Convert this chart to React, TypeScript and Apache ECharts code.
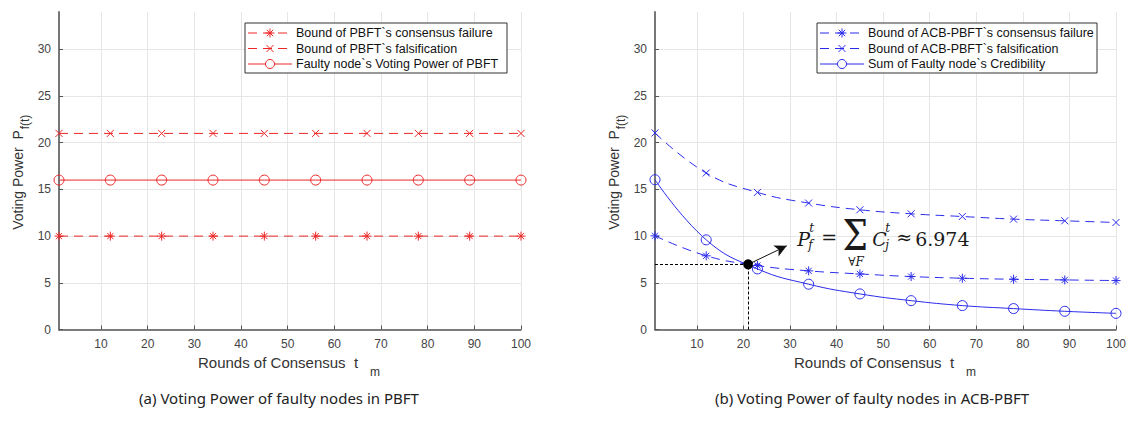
import React, { useEffect, useRef } from "react";
import * as echarts from "echarts";

// ---- data ----
const rounds = [1, 12, 23, 34, 45, 56, 67, 78, 89, 100];
const xTicks = [10, 20, 30, 40, 50, 60, 70, 80, 90, 100];
const yTicks = [0, 5, 10, 15, 20, 25, 30];

const pbftFailureBound = [10, 10, 10, 10, 10, 10, 10, 10, 10, 10];
const pbftFalsificationBound = [21, 21, 21, 21, 21, 21, 21, 21, 21, 21];
const pbftFaultyPower = [16, 16, 16, 16, 16, 16, 16, 16, 16, 16];

const acbFailureBound = [10.03, 7.89, 6.85, 6.28, 5.95, 5.67, 5.49, 5.38, 5.31, 5.24];
const acbFalsificationBound = [21.05, 16.76, 14.68, 13.54, 12.82, 12.39, 12.1, 11.82, 11.64, 11.46];
const faultyCredibilitySum = [16.04, 9.6, 6.49, 4.85, 3.81, 3.09, 2.56, 2.24, 1.95, 1.73];

const crossRound = 21;
const crossPower = 6.974;
const arrowTip = [29.3, 8.96];

const leftNames = [
  "Bound of PBFT`s consensus failure",
  "Bound of PBFT`s falsification",
  "Faulty node`s Voting Power of PBFT",
];
const rightNames = [
  "Bound of ACB-PBFT`s consensus failure",
  "Bound of ACB-PBFT`s falsification",
  "Sum of Faulty node`s Credibility",
];
const markerKinds = ["star", "cross", "circle"];

const RED = "#ec2626";
const BLUE = "#2b2bec";
const SANS = "'Liberation Sans', Arial, sans-serif";
const SERIF = "'DejaVu Serif', serif";

const STAR = "path://M5,0L5,10M0,5L10,5M1.6,1.6L8.4,8.4M1.6,8.4L8.4,1.6";
const CROSS = "path://M0,0L10,10M0,10L10,0";

function pairs(vals: number[]) {
  return rounds.map((r, i) => [r, vals[i]]);
}

function mkSeries(
  name: string,
  vals: number[],
  g: number,
  color: string,
  dashed: boolean,
  symbol: string,
  size: number,
  smooth: boolean
): any {
  const hollow = symbol === "circle";
  return {
    type: "line",
    name,
    xAxisIndex: g,
    yAxisIndex: g,
    data: pairs(vals),
    smooth: smooth ? 0.45 : false,
    symbol,
    symbolSize: size,
    showAllSymbol: true,
    color,
    lineStyle: { color, width: 1, type: dashed ? [9, 6] : "solid" },
    itemStyle: { color: hollow ? "rgba(255,255,255,0)" : color, borderColor: color, borderWidth: 1 },
    emphasis: { disabled: true },
    z: 3,
  };
}

function mkX(g: number): any {
  return {
    type: "value",
    gridIndex: g,
    min: 1,
    max: 100,
    axisLine: { show: true, lineStyle: { color: "#555", width: 1.5 } },
    axisTick: { show: true, inside: true, length: 4, customValues: xTicks, lineStyle: { color: "#555" } },
    axisLabel: { customValues: xTicks, color: "#444", fontSize: 12, fontFamily: SANS, margin: 8 },
    splitLine: { show: true, customValues: xTicks, lineStyle: { color: "#e6e6e6", width: 1 } },
  };
}

function mkY(g: number): any {
  return {
    type: "value",
    gridIndex: g,
    min: 0,
    max: 34,
    axisLine: { show: true, lineStyle: { color: "#777", width: 2 } },
    axisTick: { show: true, inside: true, length: 4, customValues: yTicks, lineStyle: { color: "#555" } },
    axisLabel: { customValues: yTicks, color: "#444", fontSize: 12, fontFamily: SANS, margin: 8 },
    splitLine: { show: true, customValues: yTicks, lineStyle: { color: "#e6e6e6", width: 1 } },
  };
}

function txt(x: number, y: number, text: string, fontSize: number, opts: any = {}): any {
  return {
    type: "text",
    x,
    y,
    rotation: opts.rotation || 0,
    scaleY: opts.scaleY || 1,
    silent: true,
    z: 20,
    style: {
      text,
      fontSize,
      fontFamily: opts.family || SANS,
      fontStyle: opts.italic ? "italic" : "normal",
      fill: opts.color || "#333",
      align: opts.align || "left",
      verticalAlign: "middle",
    },
  };
}

function seg(x1: number, y1: number, x2: number, y2: number, color: string, dash?: number[]): any {
  return {
    type: "line",
    silent: true,
    z: 21,
    shape: { x1, y1, x2, y2 },
    style: { stroke: color, lineWidth: 1, lineDash: dash || null },
  };
}

// legend box drawn as graphic (frame, key line, marker, label)
function legendBox(x: number, y: number, w: number, names: string[], color: string): any[] {
  const els: any[] = [
    {
      type: "rect",
      silent: true,
      z: 20,
      shape: { x, y, width: w, height: 50 },
      style: { fill: "#fff", stroke: "#333", lineWidth: 1 },
    },
  ];
  const rowY = [10, 25.5, 41];
  names.forEach((name, i) => {
    const cy = y + rowY[i];
    const x0 = x + 3;
    const x1 = x + 47;
    const cx = (x0 + x1) / 2;
    const kind = markerKinds[i];
    els.push(seg(x0, cy, x1, cy, color, kind === "circle" ? undefined : [9, 6]));
    if (kind === "star") {
      const r = 4.5;
      els.push(seg(cx - r, cy, cx + r, cy, color));
      els.push(seg(cx, cy - r, cx, cy + r, color));
      els.push(seg(cx - 3.2, cy - 3.2, cx + 3.2, cy + 3.2, color));
      els.push(seg(cx - 3.2, cy + 3.2, cx + 3.2, cy - 3.2, color));
    } else if (kind === "cross") {
      const r = 3.5;
      els.push(seg(cx - r, cy - r, cx + r, cy + r, color));
      els.push(seg(cx - r, cy + r, cx + r, cy - r, color));
    } else {
      els.push({
        type: "circle",
        silent: true,
        z: 22,
        shape: { cx, cy, r: 4.5 },
        style: { fill: "#fff", stroke: color, lineWidth: 1 },
      });
    }
    els.push(txt(x + 51, cy, name, 12.5, { color: "#111" }));
  });
  return els;
}

export default function App() {
  const ref = useRef<HTMLDivElement>(null);

  useEffect(() => {
    if (!ref.current) return;
    const chart = echarts.init(ref.current, null, { renderer: "svg" });

    const cred = mkSeries(rightNames[2], faultyCredibilitySum, 1, BLUE, false, "circle", 10, true);
    cred.markLine = {
      silent: true,
      symbol: "none",
      animation: false,
      label: { show: false },
      emphasis: { disabled: true },
      data: [
        [
          { coord: [rounds[0], crossPower], lineStyle: { color: "#000", type: [3, 2], width: 1 } },
          { coord: [crossRound, crossPower] },
        ],
        [
          { coord: [crossRound, 0], lineStyle: { color: "#000", type: [3, 2], width: 1 } },
          { coord: [crossRound, crossPower] },
        ],
        [
          { coord: [crossRound, crossPower], symbol: "none", lineStyle: { color: "#111", type: "solid", width: 1 } },
          { coord: arrowTip, symbol: "arrow", symbolSize: [9, 12] },
        ],
      ],
    };
    cred.markPoint = {
      silent: true,
      symbol: "circle",
      symbolSize: 8,
      itemStyle: { color: "#000", borderColor: "#000" },
      label: { show: false },
      data: [{ coord: [crossRound, crossPower] }],
    };

    const option: any = {
      animation: false,
      backgroundColor: "#fff",
      grid: [
        { left: 59, right: 624, top: 12, bottom: 113.5 },
        { left: 655, right: 29, top: 12, bottom: 113.5 },
      ],
      xAxis: [mkX(0), mkX(1)],
      yAxis: [mkY(0), mkY(1)],
      series: [
        mkSeries(leftNames[0], pbftFailureBound, 0, RED, true, STAR, 9, false),
        mkSeries(leftNames[1], pbftFalsificationBound, 0, RED, true, CROSS, 7, false),
        mkSeries(leftNames[2], pbftFaultyPower, 0, RED, false, "circle", 10, false),
        mkSeries(rightNames[0], acbFailureBound, 1, BLUE, true, STAR, 9, true),
        mkSeries(rightNames[1], acbFalsificationBound, 1, BLUE, true, CROSS, 7, true),
        cred,
      ],
    };
    chart.setOption(option);

    const [px, py] = chart.convertToPixel({ gridIndex: 1 }, [crossRound, crossPower]) as number[];
    const F = "#1a1a1a";
    const formula = [
      txt(px + 49, py - 25, "P", 19, { family: SERIF, italic: true, color: F }),
      txt(px + 61, py - 36, "t", 12, { family: SERIF, italic: true, color: F }),
      txt(px + 60, py - 19, "f", 12, { family: SERIF, italic: true, color: F }),
      txt(px + 81, py - 27, "=", 19, { family: SERIF, color: F, align: "center" }),
      txt(px + 107, py - 30, "Σ", 36, { family: SERIF, color: F, align: "center", scaleY: 1.2 }),
      txt(px + 108, py - 2, "∀F", 12, { family: SERIF, italic: true, color: F, align: "center" }),
      txt(px + 124, py - 25, "C", 19, { family: SERIF, italic: true, color: F }),
      txt(px + 137, py - 36, "t", 12, { family: SERIF, italic: true, color: F }),
      txt(px + 137, py - 19, "j", 12, { family: SERIF, italic: true, color: F }),
      txt(px + 156, py - 27, "≈", 19, { family: SERIF, color: F, align: "center" }),
      txt(px + 167, py - 25, "6.974", 19, { family: SERIF, color: F }),
    ];

    const labels: any[] = [];
    [0, 596].forEach((off) => {
      labels.push(txt(198 + off, 362, "Rounds of Consensus  t", 15, { color: "#333" }));
      labels.push(txt(370 + off, 372, "m", 12, { color: "#333" }));
      labels.push(txt(18 + off, 180, "Voting Power  P", 14, { color: "#333", align: "center", rotation: Math.PI / 2 }));
      labels.push(txt(25 + off, 122, "f(t)", 12, { color: "#333", align: "center", rotation: Math.PI / 2 }));
    });
    labels.push(
      txt(279, 398, "(a) Voting Power of faulty nodes in PBFT", 15, {
        family: "'Noto Sans', sans-serif",
        color: "#222",
        align: "center",
      })
    );
    labels.push(
      txt(872, 398, "(b) Voting Power of faulty nodes in ACB-PBFT", 15, {
        family: "'Noto Sans', sans-serif",
        color: "#222",
        align: "center",
      })
    );

    const legends = [
      ...legendBox(245, 23, 262, leftNames, RED),
      ...legendBox(817, 23, 280, rightNames, BLUE),
    ];

    chart.setOption({ graphic: [...formula, ...labels, ...legends] });

    return () => chart.dispose();
  }, []);

  return (
    <div
      ref={ref}
      style={{ position: "fixed", left: 0, top: 0, width: 1145, height: 443, background: "#fff" }}
    />
  );
}
